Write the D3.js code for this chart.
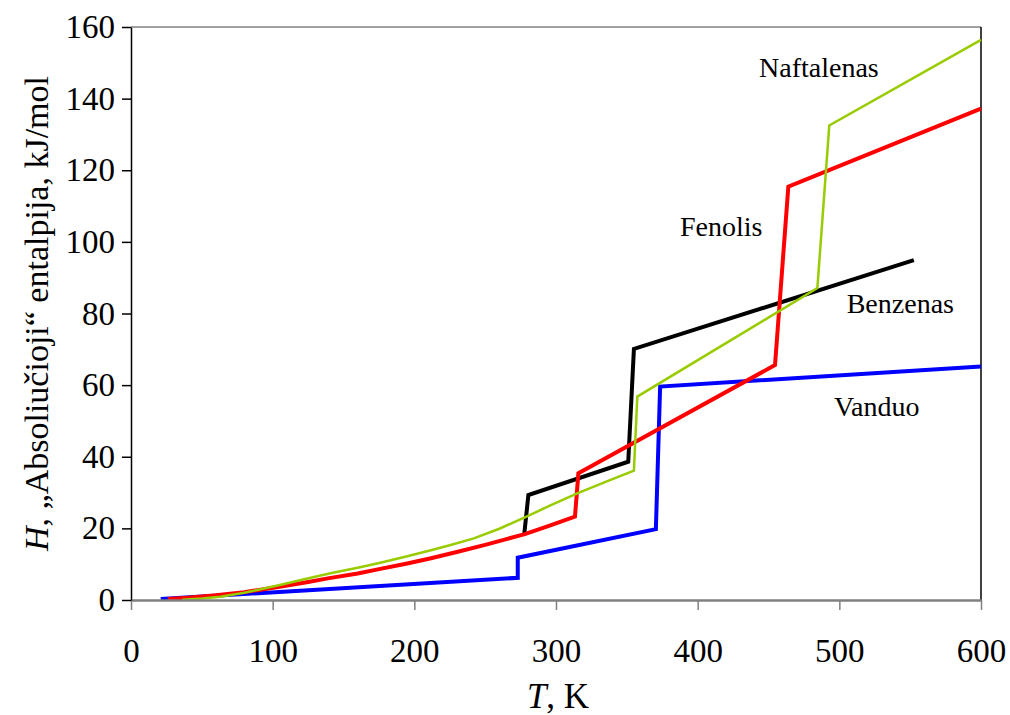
<!DOCTYPE html>
<html>
<head>
<meta charset="utf-8">
<script src="https://cdn.jsdelivr.net/npm/d3@7"></script>
<style>
  html, body { margin: 0; padding: 0; background: #fff; }
  svg { display: block; }
  text { font-family: "Liberation Serif", "Times New Roman", serif; fill: #000; }
</style>
</head>
<body>
<svg id="chart" width="1010" height="715"></svg>
<script>
// ---- data (T in K, H in kJ/mol) ----
const xTicks = [0, 100, 200, 300, 400, 500, 600];
const yTicks = [0, 20, 40, 60, 80, 100, 120, 140, 160];

const vanduo = [[21, 0.3], [273, 6.2], [273, 11.8], [370.5, 19.8], [373.5, 59.6], [600, 65.2]];
const benzenas = [[277.6, 18.4], [280.5, 29.3], [351, 38.6], [355, 70.1], [552.6, 94.9]];
const fenolis = [[26, 0.3], [40, 0.6], [60, 1.3], [80, 2.2], [105, 3.7], [125, 5.0], [140, 6.1],
  [160, 7.4], [176, 8.7], [195, 10.2], [211, 11.6], [230, 13.4], [250, 15.4], [265, 17.0], [278, 18.4],
  [295, 20.7], [313.4, 23.3], [315.8, 35.4], [454.6, 65.6], [464, 115.4], [600, 137.2]];
const naftalenas = [[36, 0.1], [50, 0.4], [63, 0.9], [80, 2.0], [105, 4.2], [120, 5.6], [140, 7.4],
  [160, 9.0], [176, 10.4], [195, 12.2], [211, 13.8], [225, 15.3], [242, 17.2], [260, 19.9], [278, 23.1],
  [296, 26.4], [315, 29.8], [335, 33.0], [355, 36.1], [357.4, 56.8], [484.5, 87.1], [492.9, 132.5], [600, 156.4]];

const seriesNames = ["Vanduo", "Benzenas", "Fenolis", "Naftalenas"];
const seriesData = [vanduo, benzenas, fenolis, naftalenas];
const seriesColors = ["#0000FF", "#000000", "#FF0000", "#99CC00"];
const seriesWidths = [4, 4, 4, 2.5];
// label anchor positions in data units (left / baseline)
const labelPos = [[496.2, 51.4], [505.2, 80.1], [387.5, 101.6], [443.3, 146.1]];

// ---- layout ----
const svg = d3.select("#chart");
const pLeft = 131, pRight = 981, pTop = 27, pBottom = 600;
const x = d3.scaleLinear().domain([0, 600]).range([pLeft, pRight]);
const y = d3.scaleLinear().domain([0, 160]).range([pBottom, pTop]);

svg.append("rect").attr("width", 1010).attr("height", 715).attr("fill", "#fff");

// plot border: top gray, right black
svg.append("line").attr("x1", pLeft).attr("x2", pRight).attr("y1", pTop).attr("y2", pTop)
  .attr("stroke", "#808080").attr("stroke-width", 1.5);
svg.append("line").attr("x1", pRight).attr("x2", pRight).attr("y1", pTop).attr("y2", pBottom)
  .attr("stroke", "#000").attr("stroke-width", 1.5);

// series
const line = d3.line().x(d => x(d[0])).y(d => y(d[1]));
seriesData.forEach((s, i) => {
  svg.append("path").datum(s)
    .attr("d", line)
    .attr("fill", "none")
    .attr("stroke", seriesColors[i])
    .attr("stroke-width", seriesWidths[i])
    .attr("stroke-linejoin", "miter");
});

// x axis
const gx = svg.append("g").attr("transform", `translate(0,${pBottom})`)
  .call(d3.axisBottom(x).tickValues(xTicks).tickSize(10).tickSizeOuter(0).tickPadding(29));
gx.select(".domain").attr("stroke", "#808080").attr("stroke-width", 2.5);
gx.selectAll(".tick line").attr("stroke", "#808080").attr("stroke-width", 1.5);
gx.selectAll(".tick text").attr("font-size", 33).attr("font-family", "Liberation Serif").attr("fill", "#000");

// y axis
const gy = svg.append("g").attr("transform", `translate(${pLeft},0)`)
  .call(d3.axisLeft(y).tickValues(yTicks).tickSize(9).tickSizeOuter(0).tickPadding(7));
gy.select(".domain").attr("stroke", "#000").attr("stroke-width", 1.5);
gy.selectAll(".tick line").attr("stroke", "#000").attr("stroke-width", 1.5);
gy.selectAll(".tick text").attr("font-size", 33).attr("font-family", "Liberation Serif").attr("fill", "#000");

// axis titles
const xt = svg.append("text").attr("x", (pLeft + pRight) / 2 + 2).attr("y", 708)
  .attr("text-anchor", "middle").attr("font-size", 35);
xt.append("tspan").attr("font-style", "italic").text("T");
xt.append("tspan").text(", K");

const yt = svg.append("text")
  .attr("transform", `translate(48,${(pTop + pBottom) / 2}) rotate(-90)`)
  .attr("text-anchor", "middle").attr("font-size", 34);
yt.append("tspan").attr("font-style", "italic").text("H");
yt.append("tspan").text(", „Absoliučioji“ entalpija, kJ/mol");

// series labels
seriesNames.forEach((n, i) => {
  svg.append("text")
    .attr("x", x(labelPos[i][0])).attr("y", y(labelPos[i][1]))
    .attr("font-size", 28)
    .text(n);
});
</script>
</body>
</html>
